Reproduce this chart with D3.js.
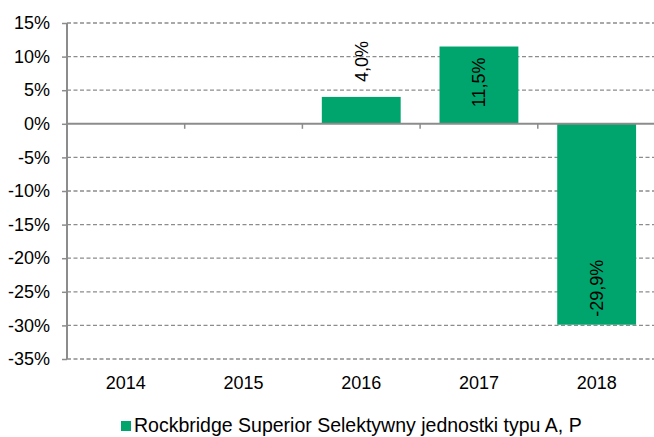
<!DOCTYPE html>
<html>
<head>
<meta charset="utf-8">
<script src="https://cdn.jsdelivr.net/npm/d3@7"></script>
<style>
  body { margin: 0; background: #fff; }
  text { font-family: "Liberation Sans", Arial, sans-serif; fill: #000; }
</style>
</head>
<body>
<div class="visContainer"></div>
<script>
const years = ['2014', '2015', '2016', '2017', '2018'];
const values = [null, null, 4.0, 11.5, -29.9];
const yTicks = [15, 10, 5, 0, -5, -10, -15, -20, -25, -30, -35];
const seriesName = 'Rockbridge Superior Selektywny jednostki typu A, P';

const w = 654;
const h = 437;
const plotLeft = 67;
const plotTop = 23;
const plotW = 588.5;
const plotH = 336;
const green = '#00a56e';
const grey = '#8c8c8c';
const fontSize = '18px';

const svg = d3
  .select('.visContainer')
  .append('svg')
  .attr('width', w)
  .attr('height', h);

const xScale = d3
  .scaleBand()
  .domain(years)
  .range([plotLeft, plotLeft + plotW])
  .paddingInner(0.33)
  .paddingOuter(0.165);

const yScale = d3.scaleLinear().domain([-35, 15]).range([plotTop + plotH, plotTop]);

// polish style: comma decimal, plain hyphen minus
const fmt = (v) => v.toFixed(1).replace('.', ',') + '%';

// dashed grid
svg
  .append('g')
  .selectAll('line')
  .data(yTicks.filter((t) => t !== 0))
  .enter()
  .append('line')
  .attr('x1', plotLeft)
  .attr('x2', w)
  .attr('y1', (d) => yScale(d))
  .attr('y2', (d) => yScale(d))
  .attr('stroke', grey)
  .attr('stroke-width', 1.3)
  .attr('stroke-dasharray', '4,2.5');

// bars
const barData = years
  .map((y, i) => ({ year: y, v: values[i] }))
  .filter((d) => d.v !== null);

svg
  .append('g')
  .selectAll('rect')
  .data(barData)
  .enter()
  .append('rect')
  .attr('x', (d) => xScale(d.year))
  .attr('y', (d) => yScale(Math.max(0, d.v)))
  .attr('width', xScale.bandwidth())
  .attr('height', (d) => Math.abs(yScale(d.v) - yScale(0)))
  .attr('fill', green);

// y axis
const yAxis = d3
  .axisLeft(yScale)
  .tickValues(yTicks)
  .tickSize(5)
  .tickPadding(12)
  .tickFormat((d) => d + '%');

const yAxisGroup = svg
  .append('g')
  .attr('transform', 'translate(' + plotLeft + ',0)')
  .call(yAxis);
yAxisGroup.select('.domain').remove();
yAxisGroup.selectAll('.tick line').attr('stroke', grey).attr('stroke-width', 1.5);
yAxisGroup
  .selectAll('.tick text')
  .style('font-size', fontSize)
  .style('font-family', '"Liberation Sans", Arial, sans-serif')
  .attr('fill', '#000');
yAxisGroup
  .append('line')
  .attr('x1', 0)
  .attr('x2', 0)
  .attr('y1', yScale(15))
  .attr('y2', yScale(-35))
  .attr('stroke', grey)
  .attr('stroke-width', 2);

// zero line with category ticks
svg
  .append('line')
  .attr('x1', plotLeft)
  .attr('x2', w)
  .attr('y1', yScale(0))
  .attr('y2', yScale(0))
  .attr('stroke', grey)
  .attr('stroke-width', 2);

svg
  .append('g')
  .selectAll('line')
  .data(years.slice(1))
  .enter()
  .append('line')
  .attr('x1', (d) => xScale(d) - xScale.step() * 0.165)
  .attr('x2', (d) => xScale(d) - xScale.step() * 0.165)
  .attr('y1', yScale(0))
  .attr('y2', yScale(0) + 5)
  .attr('stroke', grey)
  .attr('stroke-width', 1.5);

// category labels
svg
  .append('g')
  .selectAll('text')
  .data(years)
  .enter()
  .append('text')
  .attr('x', (d) => xScale(d) + xScale.bandwidth() / 2)
  .attr('y', 389)
  .attr('text-anchor', 'middle')
  .style('font-size', fontSize)
  .text((d) => d);

// value labels, rotated
svg
  .append('g')
  .selectAll('text')
  .data(barData)
  .enter()
  .append('text')
  .attr('transform', (d) => {
    const cx = xScale(d.year) + xScale.bandwidth() / 2;
    let y;
    if (d.v > 0 && d.v < 6) y = yScale(d.v) - 15;
    else if (d.v > 0) y = yScale(d.v) + 11;
    else y = yScale(d.v) - 8;
    return 'translate(' + cx + ',' + y + ') rotate(-90)';
  })
  .attr('text-anchor', (d) => (d.v > 0 && d.v >= 6 ? 'end' : 'start'))
  .attr('dy', '0.35em')
  .style('font-size', fontSize)
  .text((d) => fmt(d.v));

// legend
const legend = svg.append('g');
legend
  .append('rect')
  .attr('x', 121)
  .attr('y', 421)
  .attr('width', 10)
  .attr('height', 10)
  .attr('fill', green);
legend
  .append('text')
  .attr('x', 134)
  .attr('y', 432)
  .style('font-size', '19.5px')
  .text(seriesName);
</script>
</body>
</html>
